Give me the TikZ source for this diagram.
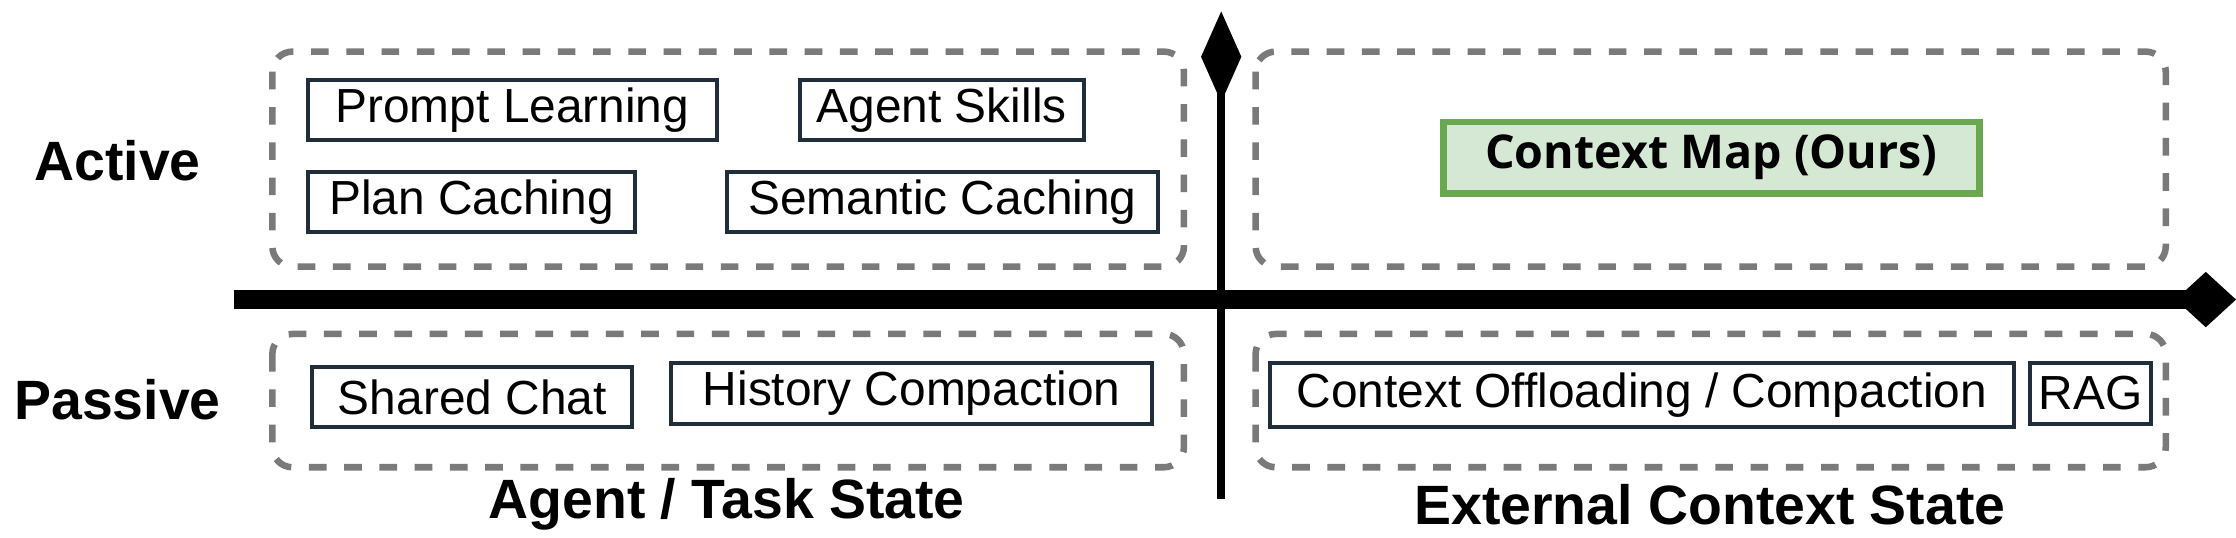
\documentclass[tikz,border=0pt]{standalone}
\usepackage{fontspec}
\setmainfont{Liberation Sans}
\newfontfamily\osans{Open Sans}
\usetikzlibrary{arrows.meta}
\definecolor{navy}{HTML}{1F2D3D}
\definecolor{dgray}{HTML}{7A7A7A}
\definecolor{gfill}{HTML}{D5E8D4}
\definecolor{gline}{HTML}{6AA84F}
\tikzset{
  item/.style={draw=navy,line width=1.6pt,fill=white,inner sep=0pt,font=\fontsize{19}{22}\selectfont},
  region/.style={draw=dgray,line width=2.6pt,dash pattern=on 7pt off 7pt,rounded corners=8pt},
  axislab/.style={font=\fontsize{22}{26}\selectfont\bfseries}
}
\begin{document}
\begin{tikzpicture}[x=0.02cm,y=-0.02cm]
\useasboundingbox (0,0) rectangle (1560,375);
% regions
\draw[region] (190,36) rectangle (826,186);
\draw[region] (876,36) rectangle (1511,186);
\draw[region] (190,233) rectangle (826,326);
\draw[region] (876,233) rectangle (1511,326);
% axes
\coordinate (vb) at (852,348);
\coordinate (vt) at (852,8);
\coordinate (hl) at (163,209);
\coordinate (hr) at (1560,209);
\draw[line width=3.2pt,-{Kite[length=36pt,width=16pt,inset=18pt]}] (vb) -- (vt);
\draw[line width=7.5pt,-{Kite[length=24pt,width=22pt,inset=12pt]}] (hl) -- (hr);
% items
\node[item,minimum width=285*0.02cm,minimum height=42*0.02cm] (pl) at (357.5,77) {Prompt Learning};
\node[item,minimum width=198*0.02cm,minimum height=42*0.02cm] (as) at (657,77) {Agent Skills};
\node[item,minimum width=228*0.02cm,minimum height=42*0.02cm] (pc) at (329,141) {Plan Caching};
\node[item,minimum width=301*0.02cm,minimum height=42*0.02cm] (sc) at (657.5,141) {Semantic Caching};
\node[draw=gline,fill=gfill,line width=2.6pt,minimum width=374*0.02cm,minimum height=50*0.02cm,font=\osans\bfseries\fontsize{18.5}{22}\selectfont] (cm) at (1194,110) {Context Map (Ours)};
\node[item,minimum width=223*0.02cm,minimum height=42*0.02cm] (sh) at (329.5,277) {Shared Chat};
\node[item,minimum width=336*0.02cm,minimum height=43*0.02cm] (hc) at (636,274.5) {History Compaction};
\node[item,minimum width=519*0.02cm,minimum height=45*0.02cm] (co) at (1145.5,275.5) {Context Offloading / Compaction};
\node[item,minimum width=85*0.02cm,minimum height=43*0.02cm] (rag) at (1458.5,274.5) {RAG};
% labels
\node[axislab] (act) at (82,112) {Active};
\node[axislab] (pas) at (82,279) {Passive};
\node[axislab] (ats) at (507,352) {Agent / Task State};
\node[axislab] (ecs) at (1193,352) {External Context State};
\end{tikzpicture}
\end{document}
